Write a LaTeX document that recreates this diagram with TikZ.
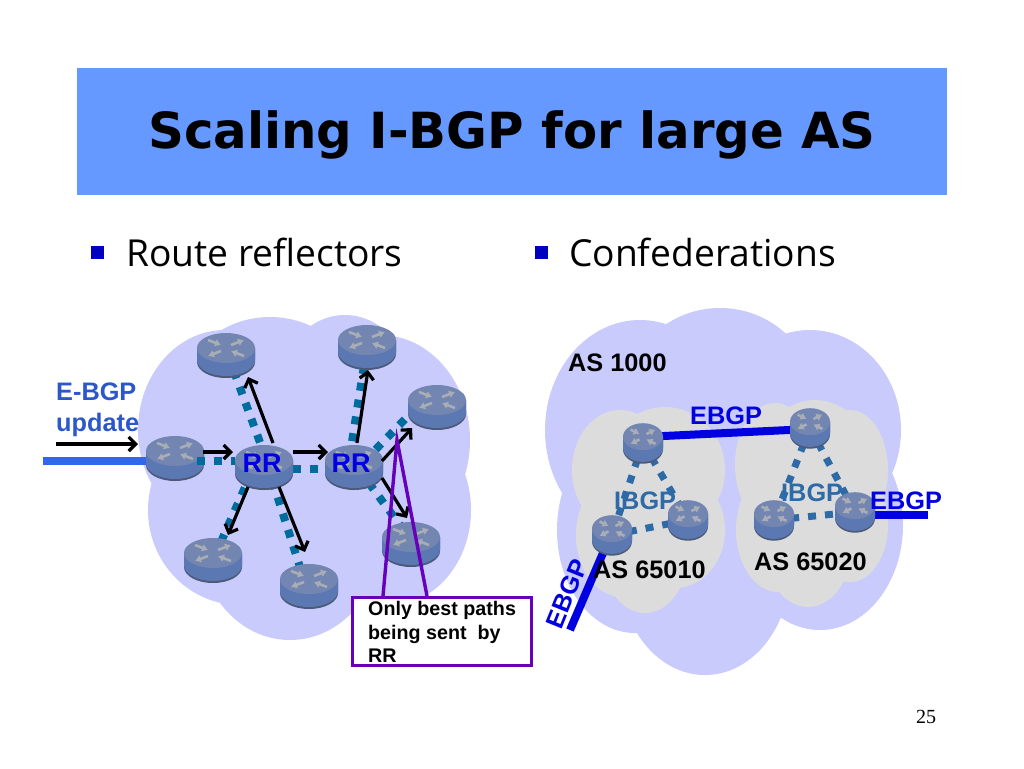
\documentclass[tikz,border=0pt]{standalone}
\usepackage{fontspec}
\usepackage{xcolor}
\usetikzlibrary{shapes.geometric,arrows.meta}
\newfontfamily\titlefont{DejaVu Sans}
\newfontfamily\bodyfont{Open Sans}
\newfontfamily\labelfont{Liberation Sans}
\newfontfamily\pagefont{Liberation Serif}
\definecolor{barblue}{HTML}{6699FF}
\definecolor{cloudlilac}{HTML}{C9CBFD}
\definecolor{cloudgrey}{HTML}{DCDCDC}
\definecolor{dotteal}{HTML}{006C9E}
\definecolor{dotblue}{HTML}{2E6AA6}
\definecolor{feedblue}{HTML}{3366EE}
\definecolor{ebgpblue}{HTML}{0000E0}
\definecolor{notepurple}{HTML}{6600BB}
\definecolor{routeredge}{HTML}{4C5A78}
\definecolor{routerbody}{HTML}{5B78B2}
\definecolor{routertop}{HTML}{7386B2}
\definecolor{routermark}{HTML}{A9ADB4}
\tikzset{
  lilac/.style={fill=cloudlilac},
  grey/.style={fill=cloudgrey},
  routernode/.style={ellipse,inner sep=0pt,minimum width=50pt,minimum height=38pt},
  routersmall/.style={ellipse,inner sep=0pt,minimum width=34pt,minimum height=34pt},
  dots/.style={dotteal,line width=8pt,dash pattern=on 8pt off 9pt},
  dotsb/.style={dotblue,line width=7pt,dash pattern=on 8pt off 9pt},
  update/.style={black,line width=3.2pt,-{Straight Barb[length=7pt,width=14pt,line width=3.2pt]}},
  ebgp/.style={ebgpblue,line width=8pt},
  lab/.style={font=\labelfont\bfseries\fontsize{25.3}{28}\selectfont,inner sep=0pt},
  routerpic/.pic={
    \fill [routeredge] (-29,-7) -- (-29,7) arc [start angle=180,end angle=360,x radius=29pt,y radius=16pt] -- (29,-7) -- cycle;
    \fill [routerbody] (-29,-7) -- (-29,5) arc [start angle=180,end angle=360,x radius=29pt,y radius=16pt] -- (29,-7) -- cycle;
    \fill [routertop] (0,-7) ellipse [x radius=29pt,y radius=15pt];
    \foreach \ax/\ay/\bx/\by in {-18/-15/-5/-10, 5/-10/18/-15, -5/-4/-18/1, 18/1/5/-4}
      \draw [routermark,line width=2.6pt,-{Latex[length=6pt,width=8pt]}] (\ax,\ay) -- (\bx,\by);
  }
}
\begin{document}
\begin{tikzpicture}[x=1pt,y=-1pt]
 	\useasboundingbox (0,0) rectangle (1024,768);
 	\fill [white] (0,0) rectangle (1024,768);
 	\node [fill=barblue,minimum width=870pt,minimum height=127pt,inner sep=0pt] (bar) at (512,131.5) {};
 	\node [font=\titlefont\bfseries\fontsize{49.8}{55}\selectfont,inner sep=0pt] (title) at (512,135) {Scaling I-BGP for large AS};
 	\node [fill=ebgpblue!85!black,minimum size=13pt,inner sep=0pt] (bulleta) at (97,252) {};
 	\node [fill=ebgpblue!85!black,minimum size=13pt,inner sep=0pt] (bulletb) at (541,252) {};
 	\node [font=\bodyfont\fontsize{37.2}{40}\selectfont,inner sep=0pt,anchor=base west] (reflect) at (126,266) {Route reflectors};
 	\node [font=\bodyfont\fontsize{37.2}{40}\selectfont,inner sep=0pt,anchor=base west] (confed) at (569,266) {Confederations};
 	% left cloud
 	\fill [lilac] (225,430) ellipse [x radius=87pt,y radius=100pt];
 	\fill [lilac] (270,400) ellipse [x radius=90pt,y radius=83pt];
 	\fill [lilac] (345,400) ellipse [x radius=70pt,y radius=85pt];
 	\fill [lilac] (380,440) ellipse [x radius=90pt,y radius=105pt];
 	\fill [lilac] (390,510) ellipse [x radius=81pt,y radius=95pt];
 	\fill [lilac] (240,510) ellipse [x radius=92pt,y radius=95pt];
 	\fill [lilac] (290,540) ellipse [x radius=90pt,y radius=100pt];
 	% right cloud
 	\fill [lilac] (640,430) ellipse [x radius=95pt,y radius=110pt];
 	\fill [lilac] (720,400) ellipse [x radius=95pt,y radius=92pt];
 	\fill [lilac] (810,430) ellipse [x radius=91pt,y radius=100pt];
 	\fill [lilac] (820,525) ellipse [x radius=83pt,y radius=105pt];
 	\fill [lilac] (635,530) ellipse [x radius=78pt,y radius=103pt];
 	\fill [lilac] (705,570) ellipse [x radius=85pt,y radius=105pt];
 	% grey clouds
 	\fill [grey] (620,470) ellipse [x radius=48pt,y radius=60pt];
 	\fill [grey] (665,470) ellipse [x radius=60pt,y radius=63pt];
 	\fill [grey] (675,530) ellipse [x radius=50pt,y radius=58pt];
 	\fill [grey] (622,535) ellipse [x radius=46pt,y radius=62pt];
 	\fill [grey] (645,550) ellipse [x radius=44pt,y radius=63pt];
 	\fill [grey] (775,465) ellipse [x radius=40pt,y radius=62pt];
 	\fill [grey] (815,460) ellipse [x radius=55pt,y radius=60pt];
 	\fill [grey] (850,470) ellipse [x radius=38pt,y radius=60pt];
 	\fill [grey] (850,525) ellipse [x radius=38pt,y radius=57pt];
 	\fill [grey] (778,530) ellipse [x radius=42pt,y radius=62pt];
 	\fill [grey] (808,545) ellipse [x radius=44pt,y radius=62pt];
 	% routers, links first
 	\node [routernode] (rtl) at (226,355) {};
 	\node [routernode] (rfeed) at (175,458) {};
 	\node [routernode] (rra) at (264,467) {};
 	\node [routernode] (rbl) at (213,560) {};
 	\node [routernode] (rbm) at (309,586) {};
 	\node [routernode] (rrb) at (354,467) {};
 	\node [routernode] (rtop) at (367,347) {};
 	\node [routernode] (rrt) at (437,407) {};
 	\node [routernode] (rbr) at (411,544) {};
 	\node [routersmall] (ra) at (643,443) {};
 	\node [routersmall] (rb) at (612,535) {};
 	\node [routersmall] (rc) at (688,520) {};
 	\node [routersmall] (rd) at (810,428) {};
 	\node [routersmall] (re) at (774,520) {};
 	\node [routersmall] (rf) at (855,512) {};
 	\coordinate (feedend) at (43,461);
 	\coordinate (upstart) at (56,444);
 	\coordinate (upend) at (138,444);
 	\coordinate (ebgpsw) at (570,630);
 	\coordinate (ebgpe) at (928,515);
 	\draw [dots] ([xshift=2pt]rtl.center) -- ([xshift=5pt]rra.center);
 	\draw [dots] (rbl) -- ([xshift=-10pt]rra.center);
 	\draw [dots] ([xshift=-3pt]rbm.center) -- ([xshift=4pt]rra.center);
 	\draw [dots] ([shift={(12,2)}]rra.center) -- ([shift={(-20,2)}]rrb.center);
 	\draw [dots] (rtop) -- ([xshift=-6pt]rrb.center);
 	\draw [dots] ([shift={(-2,7)}]rrb.center) -- ([shift={(-27,7)}]rrt.center);
 	\draw [dots] ([xshift=3pt]rbr.center) -- ([xshift=3pt]rrb.center);
 	\draw [dotsb] (ra) -- (rb);
 	\draw [dotsb] (ra) -- (rc);
 	\draw [dotsb] (rb) -- (rc);
 	\draw [dotsb] (rd) -- (re);
 	\draw [dotsb] (rd) -- (rf);
 	\draw [dotsb] (re) -- (rf);
 	\draw [feedblue,line width=8pt] (feedend) -- ([shift={(0,3)}]rfeed.center);
 	\draw [ebgp] ([shift={(0,-6)}]ra.center) -- ([shift={(0,1)}]rd.center);
 	\draw [ebgp] ([shift={(-9,18)}]rb.center) -- (ebgpsw);
 	\draw [ebgp] ([shift={(0,3)}]rf.center) -- (ebgpe);
 	\foreach \r in {rtl,rfeed,rra,rbl,rbm,rrb,rtop,rrt,rbr}
 		\pic at (\r) {routerpic};
 	\foreach \r in {ra,rb,rc,rd,re,rf}
 		\pic [xscale=0.69,yscale=0.9] at (\r) {routerpic};
 	\draw [dots] ([shift={(22,3)}]rfeed.center) -- ([shift={(-29,-6)}]rra.center);
 	% update arrows
 	\draw [update] (upstart) -- (upend);
 	\draw [update] ([shift={(28,-6)}]rfeed.center) -- ([shift={(-31,-15)}]rra.center);
 	\draw [update] ([shift={(9,-24)}]rra.center) -- ([shift={(22,22)}]rtl.center);
 	\draw [update] ([shift={(-16,20)}]rra.center) -- ([shift={(15,-25)}]rbl.center);
 	\draw [update] ([shift={(15,20)}]rra.center) -- ([shift={(-4,-34)}]rbm.center);
 	\draw [update] ([shift={(29,-15)}]rra.center) -- ([shift={(-26,-15)}]rrb.center);
 	\draw [update] ([shift={(3,-24)}]rrb.center) -- ([shift={(1,23)}]rtop.center);
 	\draw [update] ([shift={(28,-6)}]rrb.center) -- ([shift={(-25,21)}]rrt.center);
 	\draw [update] ([shift={(28,11)}]rrb.center) -- ([shift={(-4,-26)}]rbr.center);
 	% labels
 	\node [lab,feedblue!85!black,anchor=base west] (ebgpa) at (56,400) {E-BGP};
 	\node [lab,feedblue!85!black,anchor=base west] (updt) at (56,431) {update};
 	\node [lab,ebgpblue,font=\labelfont\bfseries\fontsize{27}{30}\selectfont] (rrla) at (262,463) {RR};
 	\node [lab,ebgpblue,font=\labelfont\bfseries\fontsize{27}{30}\selectfont] (rrlb) at (351,463) {RR};
 	\node [lab,anchor=base west] (as1000) at (568,371) {AS 1000};
 	\node [lab,ebgpblue,anchor=base west] (ebgpt) at (690,424) {EBGP};
 	\node [lab,dotblue,anchor=base west] (ibgpa) at (614,509) {IBGP};
 	\node [lab,dotblue,anchor=base west] (ibgpb) at (781,501) {IBGP};
 	\node [lab,ebgpblue,anchor=base west] (ebgpr) at (870,509) {EBGP};
 	\node [lab,ebgpblue,rotate=68] (ebgpl) at (567,594) {EBGP};
 	\node [lab,anchor=base west] (as65010) at (593,578) {AS 65010};
 	\node [lab,anchor=base west] (as65020) at (754,570) {AS 65020};
 	% note
 	\node [draw=notepurple,line width=3pt,fill=white,minimum width=179pt,minimum height=68pt,inner sep=0pt] (notebox) at (442,631.5) {};
 	\coordinate (notetip) at (397,440);
 	\draw [notepurple,line width=3.4pt] ([xshift=-59pt]notebox.north) -- (notetip) -- ([xshift=-15pt]notebox.north);
 	\node [font=\labelfont\bfseries\fontsize{19.7}{23.7}\selectfont,align=left,inner sep=0pt,anchor=north west] (notetxt) at (368,601) {Only best paths\\being sent\ \ by\\RR};
 	\node [font=\pagefont\fontsize{20}{22}\selectfont,inner sep=0pt] (pagenum) at (926,717) {25};
\end{tikzpicture}
\end{document}
